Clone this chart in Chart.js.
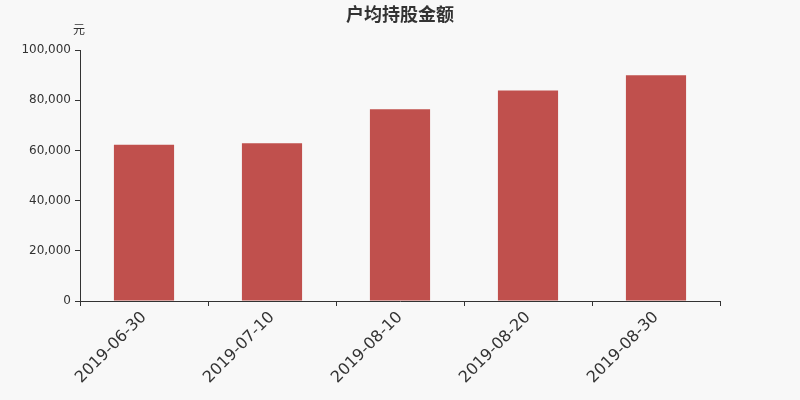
<!DOCTYPE html>
<html>
<head>
<meta charset="utf-8">
<script src="https://cdn.jsdelivr.net/npm/chart.js@4"></script>
<style>
  html, body { margin: 0; padding: 0; background: #f8f8f8; }
  #wrap { width: 800px; height: 400px; }
</style>
</head>
<body>
<div id="wrap"><canvas id="chartHolding"></canvas></div>
<script>
const chartTitle = '户均持股金额'
const unitLabel = '元'
const dates = ['2019-06-30', '2019-07-10', '2019-08-10', '2019-08-20', '2019-08-30']
const amounts = [62300, 62800, 76400, 83900, 89900]

const fontFamily = '"DejaVu Sans", "Noto Sans CJK SC", sans-serif'
const textColor = '#333'

// title and unit label drawn on top of the canvas
const headerText = {
    id: 'headerText',
    afterDraw(chart) {
        const ctx = chart.ctx
        ctx.save()
        ctx.fillStyle = textColor
        ctx.textBaseline = 'middle'
        ctx.textAlign = 'center'
        ctx.font = 'bold 18px "Noto Sans CJK SC", sans-serif'
        ctx.fillText(chartTitle, 400, 14)
        ctx.font = '12px "Noto Sans CJK SC", sans-serif'
        ctx.fillText(unitLabel, 79, 29)
        ctx.restore()
    }
}

const data = {
    labels: dates,
    datasets: [{
        data: amounts,
        backgroundColor: '#c0504d',
        barPercentage: 0.47,
        categoryPercentage: 1
    }]
}

const options = {
    responsive: false,
    animation: false,
    layout: { padding: { top: 50, right: 80, left: 0, bottom: 0 } },
    plugins: {
        legend: { display: false },
        title: { display: false },
        tooltip: { enabled: false }
    },
    scales: {
        x: {
            grid: { offset: true, drawOnChartArea: false, tickLength: 5, color: textColor },
            border: { color: textColor },
            ticks: {
                color: textColor,
                font: { family: fontFamily, size: 16 },
                minRotation: 45,
                maxRotation: 45,
                padding: 2
            },
            afterFit(scale) { scale.height = 99 }
        },
        y: {
            min: 0,
            max: 100000,
            grid: { drawOnChartArea: false, tickLength: 5, color: textColor },
            border: { color: textColor },
            ticks: {
                stepSize: 20000,
                color: textColor,
                font: { family: fontFamily, size: 12 },
                padding: 4,
                callback: v => v.toLocaleString('en-US')
            },
            afterFit(scale) { scale.width = 80 }
        }
    }
}

const canvas = document.getElementById('chartHolding')
canvas.width = 800
canvas.height = 400
new Chart(canvas, { type: 'bar', data, options, plugins: [headerText] })
</script>
</body>
</html>
